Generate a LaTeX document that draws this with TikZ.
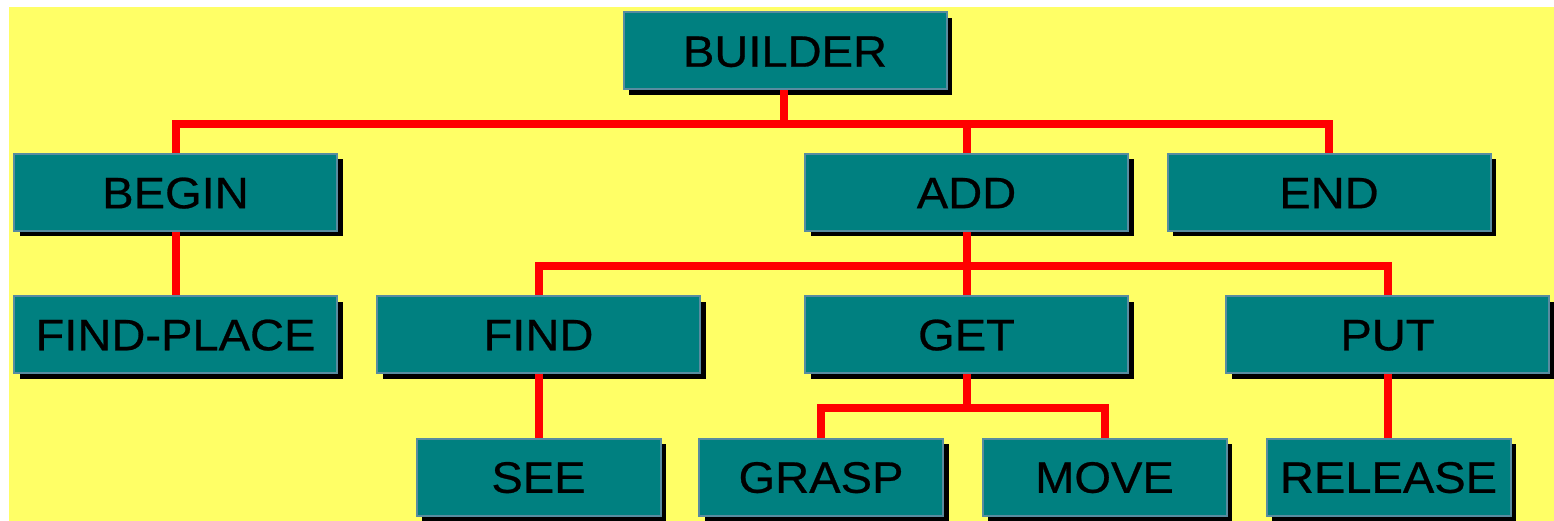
\documentclass[tikz,border=0pt]{standalone}
\usepackage{fontspec}
\setmainfont{Liberation Sans}[FakeStretch=1.07,FakeBold=0.6]
\usetikzlibrary{shadows}
\definecolor{bgyellow}{RGB}{255,255,102}
\definecolor{boxteal}{RGB}{0,128,128}
\definecolor{boxedge}{RGB}{88,140,160}
\definecolor{linkred}{RGB}{255,0,0}
\tikzset{
  box/.style={rectangle, inner sep=0pt, minimum height=77pt, minimum width=323pt,
    fill=boxteal, draw=boxedge, line width=2pt, text=black,
    font=\fontsize{44}{44}\selectfont, text height=31.5pt, text depth=0pt,
    drop shadow={shadow xshift=5.5pt, shadow yshift=-5.5pt, fill=black, opacity=1}},
  smallbox/.style={box, minimum width=244pt},
  link/.style={draw=linkred, line width=8pt}
}
\begin{document}
\begin{tikzpicture}[x=1pt,y=-1pt]
\useasboundingbox (0,0) rectangle (1554,521);
\fill[bgyellow] (9,7) rectangle (1554,521);

\node[box] (builder) at (785,51) {BUILDER};
\node[box] (begin) at (175.5,192.5) {BEGIN};
\node[box] (add) at (966.5,192.5) {ADD};
\node[box] (end) at (1329,192.5) {END};
\node[box] (findplace) at (175.5,334.5) {FIND-PLACE};
\node[box] (find) at (538.5,334.5) {FIND};
\node[box] (get) at (966.5,334.5) {GET};
\node[box] (put) at (1387.5,334.5) {PUT};
\node[smallbox] (see) at (538.5,477) {SEE};
\node[smallbox] (grasp) at (821,477) {GRASP};
\node[smallbox] (move) at (1104.5,477) {MOVE};
\node[smallbox] (release) at (1388.5,477) {RELEASE};

\coordinate (j1) at (784,124);
\coordinate (j1a) at (966.5,124);
\coordinate (j2) at (966.5,266);
\coordinate (j3) at (966.5,408);

\draw[link] (builder.south -| j1) -- (j1);
\draw[link] (j1) -| (begin.north);
\draw[link] (j1) -| (end.north);
\draw[link] (j1a) -- (add.north);
\draw[link] (begin.south) -- (findplace.north);
\draw[link] (add.south) -- (get.north);
\draw[link] (j2) -| (find.north);
\draw[link] (j2) -| (put.north);
\draw[link] (find.south) -- (see.north);
\draw[link] (put.south) -- (put.south |- release.north);
\draw[link] (get.south) -- (j3);
\draw[link] (j3) -| (grasp.north);
\draw[link] (j3) -| (move.north);
\end{tikzpicture}
\end{document}
